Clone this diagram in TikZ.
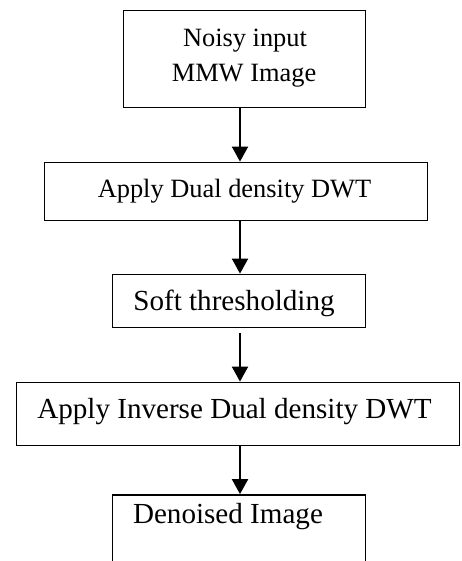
\documentclass[tikz,border=0pt]{standalone}
\usepackage{fontspec}
\setmainfont{Liberation Serif}
\usetikzlibrary{arrows.meta}
\tikzset{
  stepbox/.style={draw=black, line width=1.8pt, rectangle, inner sep=0pt},
  txtA/.style={anchor=base, inner sep=0pt, font=\fontsize{26.4}{30}\selectfont},
  txtB/.style={anchor=base, inner sep=0pt, font=\fontsize{29.1}{33}\selectfont},
  flow/.style={line width=2pt, -{Triangle[width=16pt,length=15pt]}}
}
\begin{document}
\begin{tikzpicture}[x=1pt,y=-1pt]
\useasboundingbox (0,0) rectangle (461,561);
\clip (0,0) rectangle (461,561);
\node[stepbox, minimum width=242pt, minimum height=97pt] (b1) at (244.5,59) {};
\node[stepbox, minimum width=383pt, minimum height=58pt] (b2) at (236,191.5) {};
\node[stepbox, minimum width=253pt, minimum height=53pt] (b3) at (239,301) {};
\node[stepbox, minimum width=443pt, minimum height=63pt] (b4) at (238,414) {};
\node[stepbox, minimum width=253pt, minimum height=80pt] (b5) at (239,535) {};
\node[txtA] (t1a) at (245,47) {Noisy input};
\node[txtA] (t1b) at (244,82) {MMW Image};
\node[txtA] (t2) at (234.5,197) {Apply Dual density DWT};
\node[txtB] (t3) at (234,310) {Soft thresholding};
\node[txtB] (t4) at (234.5,418) {Apply Inverse Dual density DWT};
\node[txtB] (t5) at (228,523) {Denoised Image};
\coordinate (ax) at (240,0);
\draw[flow] (b1.south -| ax) -- (b2.north -| ax);
\draw[flow] (b2.south -| ax) -- (b3.north -| ax);
\draw[flow, shorten <=5pt] (b3.south -| ax) -- (b4.north -| ax);
\draw[flow] (b4.south -| ax) -- (b5.north -| ax);
\end{tikzpicture}
\end{document}
